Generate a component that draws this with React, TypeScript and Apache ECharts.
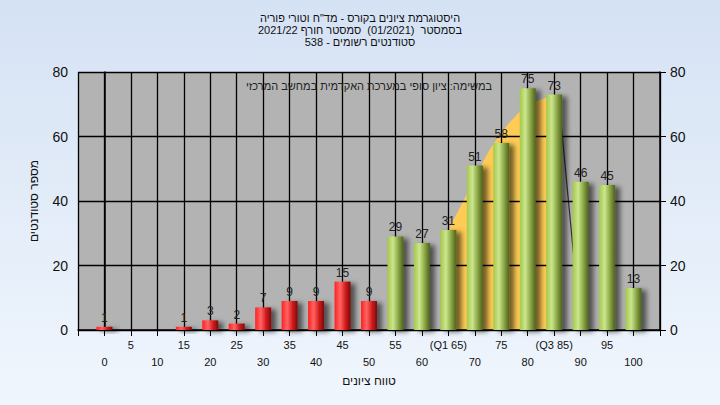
import React, { useEffect, useRef } from "react";
import * as echarts from "echarts";

const FONT = 'Arial, "Liberation Sans", "DejaVu Sans", sans-serif';

const titleLines = [
  'היסטוגרמת ציונים בקורס - מד"ח וטורי פוריה',
  "בסמסטר  (01/2021)  סמסטר חורף 2021/22",
  "סטודנטים רשומים - 538",
];
const seriesName = "במשימה: ציון סופי במערכת האקדמית במחשב המרכזי";
const xAxisName = "טווח ציונים";
const yAxisName = "מספר סטודנטים";

const scores = [0, 5, 10, 15, 20, 25, 30, 35, 40, 45, 50, 55, 60, 65, 70, 75, 80, 85, 90, 95, 100];
const counts = [1, 0, 0, 1, 3, 2, 7, 9, 9, 15, 9, 29, 27, 31, 51, 58, 75, 73, 46, 45, 13];
const passMin = 55;
const quartileLabels: Record<number, string> = { 65: "(Q1 65)", 85: "(Q3 85)" };

const curveX = [65, 67.5, 70, 72.5, 75, 77.5, 80, 82.5, 85.8];
const curveY = [31, 39, 47, 55, 61, 66, 69.5, 71.5, 73];
const edgeX = [85.8, 90];
const edgeY = [73, 0];

const yMin = 0;
const yMax = 80;
const yStep = 20;

export default function App() {
  const ref = useRef<HTMLDivElement>(null);
  useEffect(() => {
    if (!ref.current) return;
    const chart = echarts.init(ref.current, undefined, { renderer: "svg" });
    const redGrad = new echarts.graphic.LinearGradient(0, 0, 1, 0, [
      { offset: 0, color: "#ff2020" },
      { offset: 0.35, color: "#ff6464" },
      { offset: 0.7, color: "#d01818" },
      { offset: 1, color: "#780c0c" },
    ]);
    const greenGrad = new echarts.graphic.LinearGradient(0, 0, 1, 0, [
      { offset: 0, color: "#a4c84a" },
      { offset: 0.35, color: "#cbe68e" },
      { offset: 0.7, color: "#86a240" },
      { offset: 1, color: "#4c601e" },
    ]);
    const axisLabelColor = "#111";
    const option: any = {
      animation: false,
      backgroundColor: new echarts.graphic.LinearGradient(0, 0, 0, 1, [
        { offset: 0, color: "#d5e2f4" },
        { offset: 1, color: "#f0f6fd" },
      ]),
      textStyle: { fontFamily: FONT },
      title: {
        text: titleLines.join("\n"),
        left: "center",
        top: 12,
        padding: 0,
        textStyle: { fontSize: 11, fontWeight: "normal", color: "#111", lineHeight: 12, fontFamily: FONT },
      },
      grid: { left: 78, right: 60, top: 72, bottom: 75, show: true, backgroundColor: "#b3b3b3", borderWidth: 0 },
      xAxis: {
        type: "value",
        min: -5,
        max: 105,
        interval: 5,
        z: 3,
        name: xAxisName,
        nameLocation: "middle",
        nameGap: 44,
        nameTextStyle: { fontSize: 12, color: "#111", fontFamily: FONT },
        axisLine: { show: true, onZero: false, lineStyle: { color: "#000", width: 1.5 } },
        axisTick: { show: true, length: 6, lineStyle: { color: "#000", width: 1 } },
        splitLine: { show: true, lineStyle: { color: "#000", width: 1.3 } },
        axisLabel: {
          fontSize: 11,
          color: axisLabelColor,
          margin: 6,
          lineHeight: 17,
          fontFamily: FONT,
          formatter: (v: number) => {
            if (v < 0 || v > 100) return "";
            const s = quartileLabels[v] ?? String(v);
            return v % 10 === 5 ? s : "\n" + s;
          },
        },
      },
      yAxis: [
        {
          type: "value",
          min: yMin,
          max: yMax,
          interval: yStep,
          position: "left",
          z: 3,
          name: yAxisName,
          nameLocation: "middle",
          nameGap: 38,
          nameTextStyle: { fontSize: 12, color: "#111", fontFamily: FONT },
          axisLine: { show: true, lineStyle: { color: "#000", width: 1.5 } },
          axisTick: { show: true, length: 6, lineStyle: { color: "#000" } },
          splitLine: { show: true, lineStyle: { color: "#000", width: 1.3 } },
          axisLabel: { fontSize: 14, color: axisLabelColor, margin: 10, fontFamily: FONT },
        },
        {
          type: "value",
          min: yMin,
          max: yMax,
          interval: yStep,
          position: "right",
          z: 3,
          axisLine: { show: true, lineStyle: { color: "#000", width: 1.5 } },
          axisTick: { show: true, length: 6, lineStyle: { color: "#000" } },
          splitLine: { show: false },
          axisLabel: { fontSize: 14, color: axisLabelColor, margin: 10, fontFamily: FONT },
        },
      ],
      graphic: [
        {
          type: "text",
          x: 369,
          y: 86,
          z: 10,
          style: {
            text: seriesName,
            fontSize: 11,
            fontFamily: FONT,
            fill: "#222",
            align: "center",
            verticalAlign: "middle",
          },
        },
      ],
      series: [
        {
          type: "line",
          name: "curve",
          data: curveX.map((x, i) => [x, curveY[i]]),
          smooth: 0.4,
          symbol: "none",
          lineStyle: { width: 0 },
          areaStyle: { color: "#ffcb55", opacity: 1 },
          z: 2,
          silent: true,
        },
        {
          type: "line",
          name: "edge",
          data: edgeX.map((x, i) => [x, edgeY[i]]),
          symbol: "none",
          lineStyle: { color: "#333", width: 1.2 },
          z: 2,
          silent: true,
        },
        {
          type: "bar",
          name: seriesName,
          barWidth: 16,
          z: 4,
          data: scores.map((s, i) => ({
            value: [s, counts[i]],
            itemStyle: { color: s < passMin ? redGrad : greenGrad },
          })),
          itemStyle: {
            shadowColor: "rgba(0,0,0,0.55)",
            shadowBlur: 5,
            shadowOffsetX: 5,
            shadowOffsetY: 2,
          },
          label: {
            show: true,
            position: "top",
            distance: 3,
            fontSize: 12,
            color: "#222",
            fontFamily: FONT,
            formatter: (p: any) => (p.value[1] > 0 ? String(p.value[1]) : ""),
          },
        },
      ],
    };
    chart.setOption(option);
    return () => chart.dispose();
  }, []);
  return <div ref={ref} style={{ position: "absolute", left: 0, top: 0, width: 720, height: 405 }} />;
}
